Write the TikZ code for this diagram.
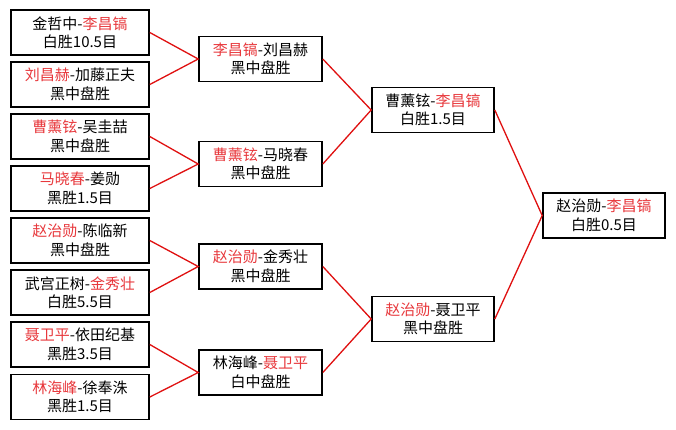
\documentclass[tikz,border=0pt]{standalone}
\usepackage{fontspec}
\setmainfont{Noto Sans CJK SC}
\definecolor{hred}{HTML}{E8383C}
\definecolor{lred}{HTML}{E01010}
\begin{document}
\begin{tikzpicture}[x=1pt,y=-1pt,
  game/.style={draw=black,line width=1.6pt,fill=white,align=center,inner sep=0pt,
    font=\fontsize{15}{18.5}\selectfont,minimum height=45pt},
  c1/.style={game,minimum width=138pt},
  c2/.style={game,minimum width=123pt},
  link/.style={draw=lred,line width=1.3pt}]
\useasboundingbox[fill=white] (0,0) rectangle (676,429);
\newcommand{\hr}[1]{\textcolor{hred}{#1}}
% column 1
\node[c1] (a1) at (80,32.5)  {金哲中-\hr{李昌镐}\\白胜10.5目};
\node[c1] (a2) at (80,84.5)  {\hr{刘昌赫}-加藤正夫\\黑中盘胜};
\node[c1] (a3) at (80,136.5) {\hr{曹薰铉}-吴圭喆\\黑中盘胜};
\node[c1] (a4) at (80,188.5) {\hr{马晓春}-姜勋\\黑胜1.5目};
\node[c1] (a5) at (80,240.5) {\hr{赵治勋}-陈临新\\黑中盘胜};
\node[c1] (a6) at (80,292.5) {武宫正树-\hr{金秀壮}\\白胜5.5目};
\node[c1] (a7) at (80,344.5) {\hr{聂卫平}-依田纪基\\黑胜3.5目};
\node[c1] (a8) at (80,397)   {\hr{林海峰}-徐奉洙\\黑胜1.5目};
% column 2
\node[c2] (b1) at (260.5,59)    {\hr{李昌镐}-刘昌赫\\黑中盘胜};
\node[c2] (b2) at (260.5,164)   {\hr{曹薰铉}-马晓春\\黑中盘胜};
\node[c2] (b3) at (260.5,266.5) {\hr{赵治勋}-金秀壮\\黑中盘胜};
\node[c2] (b4) at (260.5,372.5) {林海峰-\hr{聂卫平}\\白中盘胜};
% column 3
\node[c2,minimum width=122pt] (c1) at (433,110) {曹薰铉-\hr{李昌镐}\\白胜1.5目};
\node[c2,minimum width=122pt] (c2) at (433,319) {\hr{赵治勋}-聂卫平\\黑中盘胜};
% final
\node[c2,minimum width=122pt] (d1) at (604,215.5) {赵治勋-\hr{李昌镐}\\白胜0.5目};
% connectors
\draw[link] (a1.east) -- (b1.west) -- (a2.east);
\draw[link] (a3.east) -- (b2.west) -- (a4.east);
\draw[link] (a5.east) -- (b3.west) -- (a6.east);
\draw[link] (a7.east) -- (b4.west) -- (a8.east);
\draw[link] (b1.east) -- (c1.west) -- (b2.east);
\draw[link] (b3.east) -- (c2.west) -- (b4.east);
\draw[link] (c1.east) -- (d1.west) -- (c2.east);
\end{tikzpicture}
\end{document}
